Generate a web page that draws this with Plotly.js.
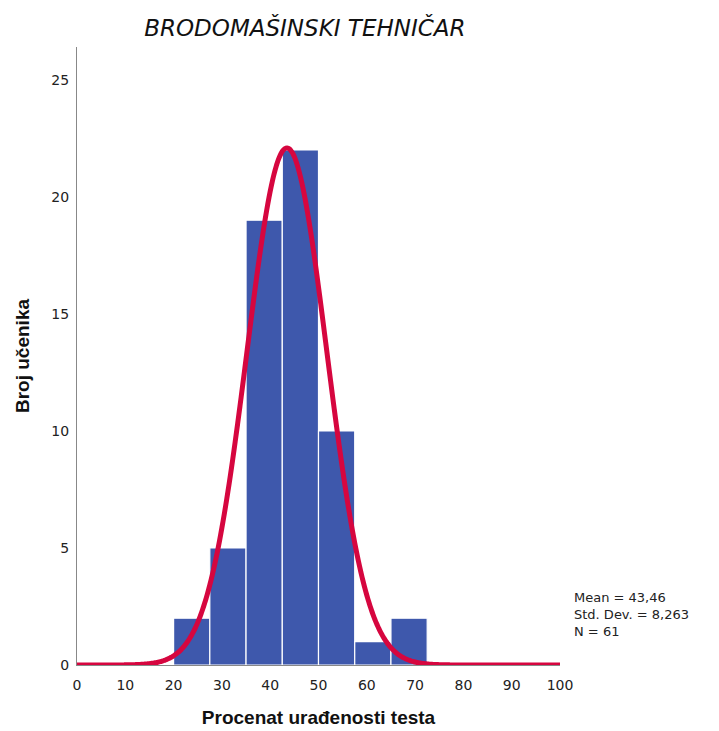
<!DOCTYPE html>
<html>
<head>
<meta charset="utf-8">
<script src="https://cdn.plot.ly/plotly-3.0.1.min.js"></script>
<style>html,body{margin:0;padding:0;background:#fff;}#chart{width:719px;height:731px;}</style>
</head>
<body>
<div id="chart"></div>
<script>
// Histogram bins (lower edges) and counts
const binStarts = [20, 27.5, 35, 42.5, 50, 57.5, 65];
const binWidth = 7.5;
const counts = [2, 5, 19, 22, 10, 1, 2];

// Summary statistics printed on the chart
const meanValue = 43.46;
const stdDev = 8.263;
const nCount = 61;

const xTicks = [0, 10, 20, 30, 40, 50, 60, 70, 80, 90, 100];
const yTicks = [0, 5, 10, 15, 20, 25];

const titleText = 'BRODOMAŠINSKI TEHNIČAR';
const xTitle = 'Procenat urađenosti testa';
const yTitle = 'Broj učenika';
const statLines = ['Mean = 43,46', 'Std. Dev. = 8,263', 'N = 61'];

// bar centres
const barX = binStarts.map(s => s + binWidth / 2);

// fitted normal curve defined by the printed mean / std. dev. / N
const curveX = [];
const curveY = [];
for (let i = 0; i <= 400; i++) {
  const x = i * 0.25;
  curveX.push(x);
  const z = (x - meanValue) / stdDev;
  curveY.push(nCount * binWidth * Math.exp(-0.5 * z * z) / (stdDev * Math.sqrt(2 * Math.PI)));
}

const font = 'DejaVu Sans, sans-serif';
const boldFont = 'Liberation Sans, Arial, sans-serif';

const traces = [
  {
    type: 'bar',
    x: barX,
    y: counts,
    width: binWidth,
    marker: {color: '#3E58AC', line: {color: '#FFFFFF', width: 1.2}},
    hoverinfo: 'skip'
  },
  {
    type: 'scatter',
    mode: 'lines',
    x: curveX,
    y: curveY,
    line: {color: '#D6063F', width: 5, shape: 'spline'},
    hoverinfo: 'skip',
    cliponaxis: false
  }
];

const annotations = [{
  text: statLines.join('<br>'),
  xref: 'paper', yref: 'paper',
  x: 1.0248, y: 0.081,
  xanchor: 'left', yanchor: 'middle',
  align: 'left',
  showarrow: false,
  font: {family: font, size: 13, color: '#222'}
}];

const layout = {
  width: 719,
  height: 731,
  margin: {l: 77, r: 159, t: 47, b: 66},
  paper_bgcolor: '#FFFFFF',
  plot_bgcolor: '#FFFFFF',
  showlegend: false,
  bargap: 0,
  title: {
    text: titleText,
    font: {family: font, size: 23, color: '#111', style: 'italic'},
    xref: 'container', yref: 'container',
    x: 0.424, y: 0.962,
    xanchor: 'center', yanchor: 'middle'
  },
  xaxis: {
    range: [0, 100],
    tickvals: xTicks,
    ticktext: xTicks.map(String),
    showgrid: false,
    zeroline: false,
    showline: true,
    linecolor: '#888',
    linewidth: 1,
    ticks: '',
    ticklabelstandoff: 7,
    tickfont: {family: font, size: 14, color: '#222'},
    title: {text: xTitle, font: {family: boldFont, size: 19, color: '#111', weight: 'bold'}, standoff: 18},
    fixedrange: true
  },
  yaxis: {
    range: [0, 26.4],
    tickvals: yTicks,
    ticktext: yTicks.map(String),
    showgrid: false,
    zeroline: false,
    showline: true,
    linecolor: '#888',
    linewidth: 1,
    ticks: '',
    ticklabelstandoff: 4,
    tickfont: {family: font, size: 14, color: '#222'},
    title: {text: yTitle, font: {family: boldFont, size: 19, color: '#111', weight: 'bold'}, standoff: 16},
    fixedrange: true
  },
  annotations: annotations
};

Plotly.newPlot('chart', traces, layout, {staticPlot: true, displayModeBar: false});
</script>
</body>
</html>
